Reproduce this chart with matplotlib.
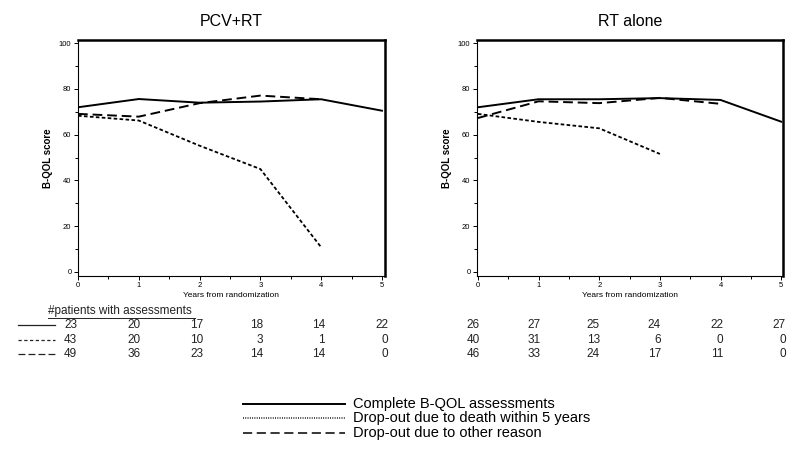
import matplotlib.pyplot as plt
from matplotlib.lines import Line2D
from matplotlib.ticker import MultipleLocator

plt.rcParams['font.family'] = ['Liberation Sans', 'DejaVu Sans']

years = [0, 1, 2, 3, 4, 5]

# PCV+RT arm
pcv_complete = [72.0, 75.6, 74.0, 74.5, 75.5, 70.5]
pcv_death = [68.3, 66.2, 55.2, 45.0, 10.8]
pcv_other = [69.1, 67.9, 73.8, 77.1, 75.5]
pcv_n_complete = [23, 20, 17, 18, 14, 22]
pcv_n_death = [43, 20, 10, 3, 1, 0]
pcv_n_other = [49, 36, 23, 14, 14, 0]

# RT alone arm
rt_complete = [72.0, 75.5, 75.5, 76.0, 75.2, 65.7]
rt_death = [69.1, 65.6, 62.8, 51.6]
rt_other = [67.3, 74.6, 73.8, 76.1, 73.5]
rt_n_complete = [26, 27, 25, 24, 22, 27]
rt_n_death = [40, 31, 13, 6, 0, 0]
rt_n_other = [46, 33, 24, 17, 11, 0]

titles = ["PCV+RT", "RT alone"]
legend_labels = ["Complete B-QOL assessments",
                 "Drop-out due to death within 5 years",
                 "Drop-out due to other reason"]

W, H = 800, 461
fig = plt.figure(figsize=(8, 4.61), dpi=100)

def fx(px):
    return px / W

def fy(py):
    return 1 - py / H

death_dash = (2.0, 1.3)
other_dash = (5.0, 2.5)

panels = [
    (77.7, 385, -0.005, 5.05, pcv_complete, pcv_death, pcv_other,
     [pcv_n_complete, pcv_n_death, pcv_n_other],
     [77, 141, 203, 263, 325, 388]),
    (476.7, 783, -0.02, 5.03, rt_complete, rt_death, rt_other,
     [rt_n_complete, rt_n_death, rt_n_other],
     [480, 541, 600, 661, 723, 786]),
]

for i, (x0, x1, xmin, xmax, comp, death, other, counts, cols) in enumerate(panels):
    ax = fig.add_axes([fx(x0), fy(276), fx(x1 - x0), (276 - 40) / H])
    ax.plot(years[:len(comp)], comp, color='black', lw=1.4)
    ax.plot(years[:len(death)], death, color='black', lw=1.3,
            linestyle=(0, death_dash))
    ax.plot(years[:len(other)], other, color='black', lw=1.4,
            linestyle=(0, other_dash))
    ax.set_xlim(xmin, xmax)
    ax.set_ylim(-1.75, 101.4)
    ax.set_xticks(years)
    ax.set_yticks([0, 20, 40, 60, 80, 100])
    ax.xaxis.set_minor_locator(MultipleLocator(0.5))
    ax.yaxis.set_minor_locator(MultipleLocator(10))
    ax.tick_params(which='major', labelsize=5.5, length=3, width=0.7, pad=1.5)
    ax.tick_params(which='minor', length=2, width=0.7)
    for side in ['left', 'bottom']:
        ax.spines[side].set_linewidth(0.8)
    for side in ['top', 'right']:
        ax.spines[side].set_linewidth(1.8)
    ax.set_ylabel("B-QOL score", fontsize=7, fontweight='bold', labelpad=4)
    ax.set_xlabel("Years from randomization", fontsize=6, labelpad=2)
    ax.set_title(titles[i], fontsize=11.5, pad=10)

    # patient counts below the panel
    for r, (row, yy) in enumerate(zip(counts, [325, 340, 354])):
        for v, cx in zip(row, cols):
            fig.text(fx(cx), fy(yy), str(v), ha='right', va='center',
                     fontsize=8.5, color='#222222')

# row header and line samples of the count table
fig.text(fx(48), fy(311), "#patients with assessments", ha='left', va='center',
         fontsize=8.5, color='#222222')
fig.add_artist(Line2D([fx(48), fx(195)], [fy(318), fy(318)], color='#222222', lw=0.7))
styles = ['-', (0, (2.6, 2.0)), (0, (5.5, 2.5))]
for st, yy in zip(styles, [325, 340, 354]):
    fig.add_artist(Line2D([fx(18), fx(55)], [fy(yy), fy(yy)], color='#222222',
                          lw=0.9, linestyle=st))

# legend at the bottom
leg_styles = ['-', (0, (0.6, 0.9)), (0, (6.0, 3.0))]
for st, lab, yy in zip(leg_styles, legend_labels, [404, 418, 433]):
    fig.add_artist(Line2D([fx(243), fx(345)], [fy(yy), fy(yy)], color='black',
                          lw=1.4 if st == '-' else 1.1, linestyle=st))
    fig.text(fx(353), fy(yy), lab, ha='left', va='center', fontsize=10.5)

fig.savefig('out.png', dpi=100)
